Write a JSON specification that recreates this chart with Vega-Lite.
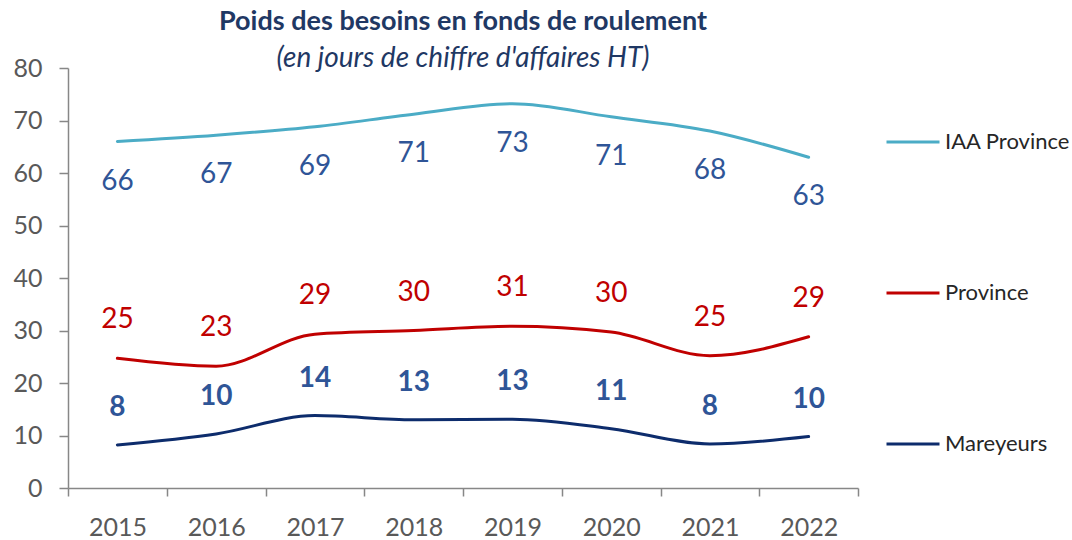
{
  "$schema": "https://vega.github.io/schema/vega-lite/v6.json",
  "width": 790,
  "height": 420,
  "autosize": "none",
  "padding": {"left": 68, "top": 68, "right": 214, "bottom": 52},
  "background": "white",
  "config": {"view": {"stroke": null}, "font": "Lato"},
  "title": {
    "text": "Poids des besoins en fonds de roulement",
    "subtitle": "(en jours de chiffre d'affaires HT)",
    "anchor": "middle",
    "font": "Lato",
    "fontSize": 27,
    "fontWeight": "bold",
    "color": "#1F3864",
    "subtitleFont": "Lato",
    "subtitleFontSize": 28,
    "subtitleFontStyle": "italic",
    "subtitleColor": "#1F3864",
    "subtitlePadding": 9,
    "offset": -18
  },
  "data": {
    "values": [
      {"year": "2015", "series": "IAA Province", "value": 66.0},
      {"year": "2016", "series": "IAA Province", "value": 67.2},
      {"year": "2017", "series": "IAA Province", "value": 68.8},
      {"year": "2018", "series": "IAA Province", "value": 71.2},
      {"year": "2019", "series": "IAA Province", "value": 73.2},
      {"year": "2020", "series": "IAA Province", "value": 70.7},
      {"year": "2021", "series": "IAA Province", "value": 68.0},
      {"year": "2022", "series": "IAA Province", "value": 63.0},
      {"year": "2015", "series": "Province", "value": 24.7},
      {"year": "2016", "series": "Province", "value": 23.2},
      {"year": "2017", "series": "Province", "value": 29.3},
      {"year": "2018", "series": "Province", "value": 30.0},
      {"year": "2019", "series": "Province", "value": 30.8},
      {"year": "2020", "series": "Province", "value": 29.7},
      {"year": "2021", "series": "Province", "value": 25.2},
      {"year": "2022", "series": "Province", "value": 28.8},
      {"year": "2015", "series": "Mareyeurs", "value": 8.2},
      {"year": "2016", "series": "Mareyeurs", "value": 10.3},
      {"year": "2017", "series": "Mareyeurs", "value": 13.8},
      {"year": "2018", "series": "Mareyeurs", "value": 13.0},
      {"year": "2019", "series": "Mareyeurs", "value": 13.1},
      {"year": "2020", "series": "Mareyeurs", "value": 11.3},
      {"year": "2021", "series": "Mareyeurs", "value": 8.4},
      {"year": "2022", "series": "Mareyeurs", "value": 9.8}
    ]
  },
  "encoding": {
    "x": {
      "field": "year",
      "type": "ordinal",
      "scale": {"type": "band", "paddingInner": 0, "paddingOuter": 0},
      "axis": {
        "title": null,
        "labelAngle": 0,
        "tickBand": "extent",
        "tickSize": 8,
        "tickColor": "#878787",
        "domainColor": "#878787",
        "domainWidth": 1.5,
        "tickWidth": 1.5,
        "labelFont": "Lato",
        "labelFontSize": 25,
        "labelColor": "#595959",
        "labelPadding": 19,
        "grid": false
      }
    },
    "y": {
      "field": "value",
      "type": "quantitative",
      "scale": {"domain": [0, 80], "nice": false},
      "axis": {
        "title": null,
        "values": [0, 10, 20, 30, 40, 50, 60, 70, 80],
        "tickSize": 9,
        "tickColor": "#878787",
        "domainColor": "#878787",
        "domainWidth": 1.5,
        "tickWidth": 1.5,
        "labelFont": "Lato",
        "labelFontSize": 25,
        "labelColor": "#595959",
        "labelPadding": 17,
        "grid": false
      }
    }
  },
  "layer": [
    {
      "mark": {"type": "line", "interpolate": "monotone", "strokeCap": "round"},
      "encoding": {
        "color": {
          "field": "series",
          "type": "nominal",
          "sort": ["IAA Province", "Province", "Mareyeurs"],
          "scale": {"domain": ["IAA Province", "Province", "Mareyeurs"], "range": ["#4BACC6", "#C00000", "#0D2C6C"]},
          "legend": {
            "title": null,
            "orient": "none",
            "legendX": 817,
            "legendY": 46,
            "padding": 0,
            "symbolType": "stroke",
            "symbolSize": 2809,
            "symbolStrokeWidth": 4,
            "labelFont": "Lato",
            "labelFontSize": 22,
            "labelColor": "#262626",
            "labelOffset": 4,
            "rowPadding": 112,
            "labelLimit": 300
          }
        },
        "strokeWidth": {
          "field": "series",
          "type": "nominal",
          "scale": {"domain": ["IAA Province", "Province", "Mareyeurs"], "range": [3, 3, 6]},
          "legend": null
        }
      }
    },
    {
      "transform": [{"filter": "datum.series === 'IAA Province'"}],
      "mark": {"type": "text", "dy": 40, "font": "Lato", "fontSize": 28, "color": "#2F5597"},
      "encoding": {"text": {"field": "value", "type": "quantitative", "format": ".0f"}}
    },
    {
      "transform": [{"filter": "datum.series === 'Province'"}],
      "mark": {"type": "text", "dy": -38, "font": "Lato", "fontSize": 28, "color": "#C00000"},
      "encoding": {"text": {"field": "value", "type": "quantitative", "format": ".0f"}}
    },
    {
      "transform": [{"filter": "datum.series === 'Mareyeurs'"}],
      "mark": {"type": "text", "dy": -37, "font": "Lato", "fontSize": 28, "fontWeight": "bold", "color": "#2F5597"},
      "encoding": {"text": {"field": "value", "type": "quantitative", "format": ".0f"}}
    }
  ]
}
